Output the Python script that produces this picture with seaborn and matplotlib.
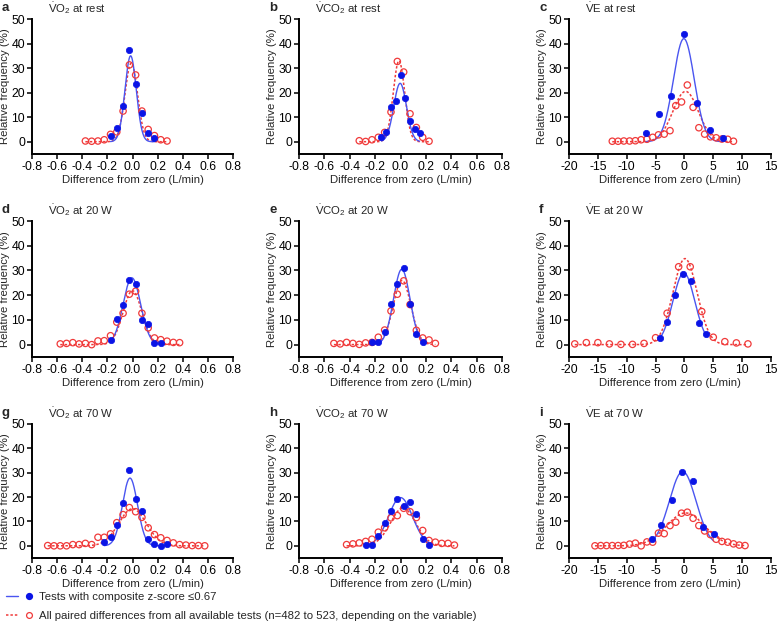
import numpy as np
import pandas as pd
import matplotlib
matplotlib.use("Agg")
import matplotlib.pyplot as plt
import seaborn as sns
from matplotlib.lines import Line2D
from matplotlib.legend_handler import HandlerTuple

# ---------------- data ----------------
# panel a: VO2 at rest
a_blue_x = [-0.175, -0.125, -0.075, -0.025, 0.025, 0.075, 0.125, 0.175]
a_blue_y = [2.2, 5.6, 14.7, 37.5, 23.6, 11.9, 3.5, 1.5]
a_red_x = [-0.375, -0.325, -0.275, -0.225, -0.175, -0.125, -0.075, -0.025, 0.025, 0.075, 0.125, 0.175, 0.225, 0.275]
a_red_y = [0.3, 0.2, 0.3, 0.8, 3.0, 4.0, 12.5, 31.3, 27.2, 12.5, 5.0, 2.5, 0.8, 0.3]
# panel b: VCO2 at rest
b_blue_x = [-0.15, -0.1125, -0.075, -0.0375, 0.0, 0.0375, 0.075, 0.1125, 0.15]
b_blue_y = [2.0, 4.1, 14.3, 16.4, 27.2, 17.9, 8.6, 5.0, 3.5]
b_red_x = [-0.325, -0.275, -0.225, -0.175, -0.125, -0.075, -0.025, 0.025, 0.075, 0.125, 0.175, 0.225]
b_red_y = [0.4, 0.1, 0.8, 1.8, 3.8, 12.1, 32.7, 28.4, 11.4, 5.8, 1.8, 0.2]
# panel c: VE at rest
c_blue_x = [-6.7, -4.46, -2.27, 0.0, 2.2, 4.35, 6.6]
c_blue_y = [3.4, 11.4, 18.6, 43.9, 15.6, 4.9, 1.4]
c_red_x = [-12.5, -11.5, -10.5, -9.5, -8.5, -7.5, -6.5, -5.5, -4.5, -3.5, -2.5, -1.5, -0.5, 0.5, 1.5, 2.5, 3.5, 4.5, 5.5, 6.5, 7.5, 8.5]
c_red_y = [0.2, 0.2, 0.3, 0.3, 0.4, 0.8, 1.0, 1.8, 2.8, 3.1, 4.5, 14.7, 16.2, 23.1, 14.0, 5.7, 3.1, 2.0, 1.6, 1.1, 1.0, 0.2]
# panel d: VO2 at 20 W
d_blue_x = [-0.175, -0.125, -0.075, -0.025, 0.025, 0.075, 0.125, 0.175, 0.225]
d_blue_y = [2.0, 10.5, 16.2, 26.1, 24.7, 9.9, 8.4, 0.8, 0.8]
d_red_x = [-0.575, -0.525, -0.475, -0.425, -0.375, -0.325, -0.275, -0.225, -0.175, -0.125, -0.075, -0.025, 0.025, 0.075, 0.125, 0.175, 0.225, 0.275, 0.325, 0.375]
d_red_y = [0.3, 0.5, 0.8, 0.3, 0.5, 0.0, 1.5, 1.6, 3.6, 9.1, 12.7, 20.4, 21.6, 12.7, 6.8, 2.7, 2.0, 1.4, 0.9, 0.8]
# panel e: VCO2 at 20 W
e_blue_x = [-0.225, -0.175, -0.125, -0.075, -0.025, 0.025, 0.075, 0.125, 0.175]
e_blue_y = [0.9, 0.9, 5.0, 16.6, 24.5, 30.9, 16.6, 4.3, 0.9]
e_red_x = [-0.525, -0.475, -0.425, -0.375, -0.325, -0.275, -0.225, -0.175, -0.125, -0.075, -0.025, 0.025, 0.075, 0.125, 0.175, 0.225, 0.275]
e_red_y = [0.5, 0.3, 0.9, 0.5, 0.1, 0.7, 0.9, 3.0, 5.9, 13.6, 20.4, 25.8, 16.2, 5.8, 2.7, 1.9, 0.5]
# panel f: VE at 20 W
f_blue_x = [-4.3, -2.96, -1.58, -0.2, 1.07, 2.5, 3.8]
f_blue_y = [2.8, 9.3, 20.0, 28.6, 25.9, 8.6, 4.3]
f_red_x = [-19, -17, -15, -13, -11, -9, -7, -5, -3, -1, 1, 3, 5, 7, 9, 11]
f_red_y = [0.3, 0.8, 0.8, 0.3, 0.1, 0.1, 0.5, 2.8, 12.7, 31.5, 31.5, 13.4, 3.0, 1.2, 0.7, 0.3]
# panel g: VO2 at 70 W
g_blue_x = [-0.225, -0.175, -0.125, -0.075, -0.025, 0.025, 0.075, 0.125, 0.175, 0.225, 0.275]
g_blue_y = [1.4, 3.5, 8.4, 17.6, 31.2, 19.2, 14.3, 2.9, 0.7, 0.1, 0.7]
g_red_x = [-0.675, -0.625, -0.575, -0.525, -0.475, -0.425, -0.375, -0.325, -0.275, -0.225, -0.175, -0.125, -0.075, -0.025, 0.025, 0.075, 0.125, 0.175, 0.225, 0.275, 0.325, 0.375, 0.425, 0.475, 0.525, 0.575]
g_red_y = [0.1, 0.0, 0.0, 0.0, 0.5, 0.5, 1.0, 0.5, 3.5, 3.5, 4.9, 9.5, 12.8, 15.7, 14.0, 11.7, 7.4, 4.6, 3.3, 2.2, 1.2, 0.5, 0.3, 0.1, 0.1, 0.0]
# panel h: VCO2 at 70 W
h_blue_x = [-0.275, -0.225, -0.175, -0.125, -0.075, -0.025, 0.025, 0.075, 0.125, 0.175, 0.225]
h_blue_y = [0.5, 0.5, 4.2, 9.3, 14.3, 19.3, 16.5, 18.0, 12.9, 2.7, 0.5]
h_red_x = [-0.425, -0.375, -0.325, -0.275, -0.225, -0.175, -0.125, -0.075, -0.025, 0.025, 0.075, 0.125, 0.175, 0.225, 0.275, 0.325, 0.375, 0.425]
h_red_y = [0.5, 0.8, 1.2, 1.8, 2.7, 5.6, 7.4, 11.5, 12.4, 15.4, 14.0, 11.6, 6.3, 2.2, 1.5, 1.0, 1.0, 0.3]
# panel i: VE at 70 W
i_blue_x = [-5.7, -4.0, -2.2, -0.37, 1.4, 3.26, 5.04]
i_blue_y = [2.7, 8.6, 18.8, 30.2, 26.6, 7.8, 4.9]
i_red_x = [-15.5, -14.5, -13.5, -12.5, -11.5, -10.5, -9.5, -8.5, -7.5, -6.5, -5.5, -4.5, -3.5, -2.5, -1.5, -0.5, 0.5, 1.5, 2.5, 3.5, 4.5, 5.5, 6.5, 7.5, 8.5, 9.5, 10.5]
i_red_y = [0.0, 0.1, 0.1, 0.1, 0.1, 0.2, 0.7, 1.1, 0.0, 1.6, 1.5, 5.2, 5.0, 8.3, 9.7, 13.4, 13.8, 11.3, 8.3, 6.1, 4.6, 2.7, 1.8, 1.5, 0.8, 0.3, 0.1]

# Gaussian fit parameters: (amplitude, mean, sd)
blue_fit = {"a": (35.0, -0.015, 0.045), "b": (23.8, -0.003, 0.05), "c": (42.0, -0.1, 1.8),
            "d": (27.0, -0.005, 0.07), "e": (30.5, 0.01, 0.065), "f": (29.0, -0.1, 1.9),
            "g": (27.8, -0.02, 0.06), "h": (19.8, 0.0, 0.095), "i": (30.5, -0.3, 2.3)}
red_fit = {"a": (32.0, -0.01, 0.05), "b": (33.0, -0.012, 0.045), "c": (20.5, 0.2, 2.2),
           "d": (21.8, 0.0, 0.075), "e": (26.0, 0.012, 0.07), "f": (34.8, 0.1, 2.1),
           "g": (15.2, 0.0, 0.11), "h": (15.5, 0.02, 0.1), "i": (13.5, 0.2, 3.3)}

titles = {
    "a": r"$\dot{\mathrm{V}}\mathrm{O}_2$ at rest",
    "b": r"$\dot{\mathrm{V}}\mathrm{CO}_2$ at rest",
    "c": r"$\dot{\mathrm{V}}$E at rest",
    "d": r"$\dot{\mathrm{V}}\mathrm{O}_2$ at 20 W",
    "e": r"$\dot{\mathrm{V}}\mathrm{CO}_2$ at 20 W",
    "f": r"$\dot{\mathrm{V}}$E at 20 W",
    "g": r"$\dot{\mathrm{V}}\mathrm{O}_2$ at 70 W",
    "h": r"$\dot{\mathrm{V}}\mathrm{CO}_2$ at 70 W",
    "i": r"$\dot{\mathrm{V}}$E at 70 W",
}
legend_labels = ["Tests with composite z-score \u22640.67",
                 "All paired differences from all available tests (n=482 to 523, depending on the variable)"]

# ---------------- style ----------------
sns.set_style("ticks")
plt.rcParams["font.family"] = ["Liberation Sans", "DejaVu Sans"]
plt.rcParams["mathtext.fontset"] = "custom"
plt.rcParams["mathtext.rm"] = "Liberation Sans"
plt.rcParams["mathtext.it"] = "Liberation Sans:italic"
plt.rcParams["mathtext.bf"] = "Liberation Sans:bold"

BLUE = "#0a14e6"
BLUE_LINE = "#4a55f0"
RED = "#f03a3a"
FS = 8.2
TFS = 8.8

W, H = 778, 628
fig = plt.figure(figsize=(W / 100, H / 100), dpi=100)

col_px = [(32, 233), (299, 502), (569, 771)]
row_px = [(19, 154), (221, 357), (424, 558)]
letters = [["a", "b", "c"], ["d", "e", "f"], ["g", "h", "i"]]
data = globals()

for r, (top, bot) in enumerate(row_px):
    for c, (left, right) in enumerate(col_px):
        key = letters[r][c]
        ax = fig.add_axes([left / W, 1 - bot / H, (right - left) / W, (bot - top) / H])
        bx, by = data[key + "_blue_x"], data[key + "_blue_y"]
        rx, ry = data[key + "_red_x"], data[key + "_red_y"]
        ve = c == 2
        # fitted curves
        for (xs, fit, col, ls, lw) in [(rx, red_fit[key], RED, (0, (1.6, 1.3)), 1.1),
                                       (bx, blue_fit[key], BLUE_LINE, "-", 1.0)]:
            A, mu, sd = fit
            xx = np.linspace(min(xs), max(xs), 300)
            yy = A * np.exp(-0.5 * ((xx - mu) / sd) ** 2)
            sns.lineplot(x=xx, y=yy, ax=ax, color=col, linestyle=ls, linewidth=lw,
                         estimator=None, sort=False)
        sns.scatterplot(x=rx, y=ry, ax=ax, marker="o", s=21, facecolor="none",
                        edgecolor=RED, linewidth=0.9, zorder=3)
        sns.scatterplot(x=bx, y=by, ax=ax, marker="o", s=21, color=BLUE,
                        edgecolor=BLUE, linewidth=0.5, zorder=4)
        if ve:
            ax.set_xlim(-20, 15)
            ax.set_xticks([-20, -15, -10, -5, 0, 5, 10, 15])
            ax.set_xticklabels(["-20", "-15", "-10", "-5", "0", "5", "10", "15"])
        else:
            ax.set_xlim(-0.8, 0.8)
            tks = [-0.8, -0.6, -0.4, -0.2, 0.0, 0.2, 0.4, 0.6, 0.8]
            ax.set_xticks(tks)
            ax.set_xticklabels(["%.1f" % t if t != 0 else "0.0" for t in tks])
        ax.set_ylim(-5, 50)
        ax.set_yticks([0, 10, 20, 30, 40, 50])
        ax.set_xlabel("Difference from zero (L/min)", fontsize=FS, labelpad=1.5)
        ax.set_ylabel("Relative frequency (%)", fontsize=FS, labelpad=1)
        ax.tick_params(labelsize=TFS, length=3.5, width=1.1, pad=1.5, colors="black")
        for s in ["left", "bottom"]:
            ax.spines[s].set_linewidth(1.4)
            ax.spines[s].set_color("black")
        sns.despine(ax=ax)
        # panel letter and title
        fig.text((left - 30) / W, 1 - (top - 11) / H, key, fontsize=9.5, fontweight="bold",
                 va="center", ha="left")
        fig.text((left + 16) / W, 1 - (top - 11) / H, titles[key], fontsize=FS,
                 va="center", ha="left")

# legend
h1 = (Line2D([], [], color=BLUE_LINE, lw=1.0), Line2D([], [], color=BLUE, marker="o", ls="none", ms=4.2))
h2 = (Line2D([], [], color=RED, lw=1.1, ls=(0, (1.6, 1.3))),
      Line2D([], [], color=RED, marker="o", ls="none", ms=4.2, mfc="none", mew=0.9))
fig.legend(handles=[h1, h2], labels=legend_labels, loc="lower left",
           bbox_to_anchor=(-0.002, 0.0), frameon=False, fontsize=FS,
           handler_map={tuple: HandlerTuple(ndivide=None, pad=0.5)},
           handlelength=2.6, handletextpad=0.3, labelspacing=0.75, borderaxespad=0.25)

fig.savefig("out.png", dpi=100)
